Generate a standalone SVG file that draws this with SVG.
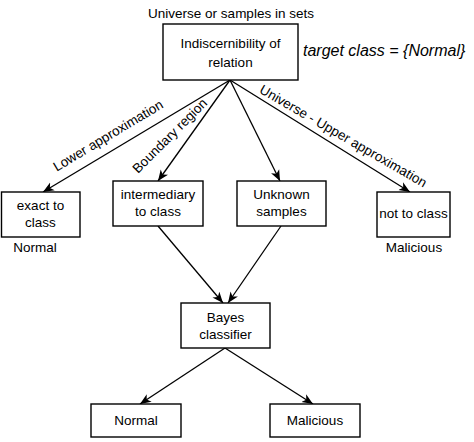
<svg xmlns="http://www.w3.org/2000/svg" width="474" height="442" viewBox="0 0 474 442">
<defs>
<style>
text{font-family:"Liberation Sans",Arial,sans-serif;font-size:13.5px;fill:#000}
.c{text-anchor:middle}
.box{fill:#fff;stroke:#000;stroke-width:1.4}
.edge{fill:none;stroke:#000;stroke-width:1.3}
</style>
<marker id="arr" markerUnits="userSpaceOnUse" markerWidth="12" markerHeight="10" refX="11" refY="5" orient="auto">
<path d="M0,0.5 L11,5 L0,9.5 L3,5 z" fill="#000"/>
</marker>
</defs>
<g id="connectors">
<line class="edge" x1="230" y1="80" x2="43" y2="192" marker-end="url(#arr)"/>
<line class="edge" x1="230" y1="80" x2="158" y2="181" marker-end="url(#arr)"/>
<line class="edge" x1="230" y1="80" x2="280" y2="181" marker-end="url(#arr)"/>
<line class="edge" x1="230" y1="80" x2="410" y2="192" marker-end="url(#arr)"/>
<line class="edge" x1="158" y1="226" x2="223" y2="303" marker-end="url(#arr)"/>
<line class="edge" x1="281" y1="226" x2="228" y2="303" marker-end="url(#arr)"/>
<line class="edge" x1="225" y1="348" x2="140" y2="404" marker-end="url(#arr)"/>
<line class="edge" x1="225" y1="348" x2="313" y2="404" marker-end="url(#arr)"/>
<text class="c" transform="translate(110.4,139.5) rotate(-31)">Lower approximation</text>
<text class="c" transform="translate(173,139) rotate(-45)">Boundary region</text>
<text class="c" transform="translate(341,140) rotate(30)">Universe - Upper approximation</text>
</g>
<g id="title">
<text class="c" x="231" y="18">Universe or samples in sets</text>
</g>
<g id="root">
<rect class="box" x="163" y="24" width="135" height="56"/>
<text class="c" x="230.5" y="48">Indiscernibility of</text>
<text class="c" x="230.5" y="67">relation</text>
</g>
<g id="target">
<text x="303" y="56" style="font-style:italic;font-size:16px">target class = {Normal}</text>
</g>
<g id="exact">
<rect class="box" x="1.5" y="192" width="78.5" height="45"/>
<text class="c" x="40.5" y="210">exact to</text>
<text class="c" x="40.5" y="227">class</text>
<text class="c" x="35" y="252">Normal</text>
</g>
<g id="intermediary">
<rect class="box" x="113" y="181" width="90" height="45"/>
<text class="c" x="158" y="199">intermediary</text>
<text class="c" x="158" y="216">to class</text>
</g>
<g id="unknown">
<rect class="box" x="237" y="181" width="89" height="45"/>
<text class="c" x="281.5" y="199">Unknown</text>
<text class="c" x="281.5" y="216">samples</text>
</g>
<g id="notclass">
<rect class="box" x="377" y="192" width="73" height="45"/>
<text class="c" x="413.5" y="218">not to class</text>
<text class="c" x="414" y="252">Malicious</text>
</g>
<g id="bayes">
<rect class="box" x="181" y="303" width="89" height="45"/>
<text class="c" x="225.5" y="322">Bayes</text>
<text class="c" x="225.5" y="339">classifier</text>
</g>
<g id="normal">
<rect class="box" x="91" y="404" width="90" height="33"/>
<text class="c" x="136" y="425">Normal</text>
</g>
<g id="malicious">
<rect class="box" x="270" y="404" width="90" height="33"/>
<text class="c" x="315" y="425">Malicious</text>
</g>
</svg>
